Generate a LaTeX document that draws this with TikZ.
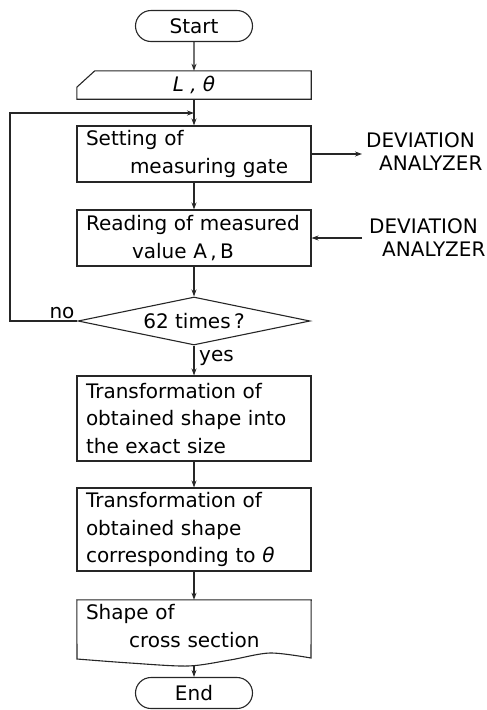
\documentclass[tikz,border=0pt]{standalone}
\usepackage{fontspec}
\setmainfont{DejaVu Sans}
\usetikzlibrary{shapes.misc,shapes.geometric,arrows.meta,calc}
\begin{document}
\begin{tikzpicture}[x=1pt,y=-1pt,
  every node/.style={font=\fontsize{20}{27.5}\selectfont},
  line/.style={draw=black!85, line width=1.1pt},
  arr/.style={line, -{Stealth[length=7pt,width=5pt]}},
  term/.style={rounded rectangle, line, minimum width=117pt, minimum height=31pt, inner sep=0pt},
  procbox/.style={rectangle, line, minimum width=234pt, text width=216pt, inner xsep=9pt, inner ysep=0pt, align=left},
  lbl/.style={inner sep=0pt, font=\fontsize{20}{23}\selectfont, align=left}
]
\useasboundingbox (0,0) rectangle (487,710);

\node[term] (start) at (194,26) {Start};
\node[inner sep=0pt, minimum width=234pt, minimum height=28pt] (inp) at (194,85) {\itshape L , θ};
\draw[line] (inp.south west) -- ($(inp.south west)+(0,-12)$) -- ($(inp.north west)+(18,0)$) -- (inp.north east) -- (inp.south east) -- cycle;

\node[procbox, minimum height=56pt] (set) at (194,154) {Setting of\\\hspace*{44pt}measuring gate};
\node[procbox, minimum height=56pt] (read) at (194,238) {Reading of measured\\\hspace*{46pt}value~A\,,\,B};
\node[diamond, line, minimum width=232pt, minimum height=48pt, inner sep=0pt, aspect=4.8] (dec) at (194,321) {62 times\,?};
\node[procbox, minimum height=85pt] (tr1) at (194,418.5) {Transformation of\\obtained shape into\\the exact size};
\node[procbox, minimum height=83pt] (tr2) at (194,529.5) {Transformation of\\obtained shape\\corresponding to {\itshape θ}};
\node[minimum width=234pt, text width=216pt, inner xsep=9pt, inner ysep=0pt, minimum height=52pt, align=left] (doc) at (194,626) {Shape of\\\hspace*{43pt}cross section};
\draw[line] (doc.north west) -- (doc.north east) -- plot[smooth] coordinates {(311,658) (270,653) (230,660) (188,666) (130,663) (77,659)} -- cycle;
\coordinate (docb) at (194,666);
\node[term] (end) at (194,693) {End};

\draw[arr] (start) -- (inp);
\draw[arr] (inp) -- (set);
\draw[arr] (set) -- (read);
\draw[arr] (read) -- (dec);
\draw[arr] (dec) -- (tr1);
\draw[arr] (tr1) -- (tr2);
\draw[arr] (tr2) -- (doc.north);
\draw[arr] (docb) -- (end);

\coordinate (lp1) at (10,321);
\coordinate (lp2) at (10,113);
\coordinate (lp3) at (194,113);
\draw[arr] (dec.west) -- (lp1) -- (lp2) -- (lp3);

\coordinate (o1) at (362,154);
\draw[arr] (set.east) -- (o1);
\coordinate (i2) at (362,238);
\draw[arr] (i2) -- (read.east);
\node[lbl, anchor=west] (dev1) at (366,151.5) {DEVIATION\\\hspace*{13pt}ANALYZER};
\node[lbl, anchor=west] (dev2) at (369,238) {DEVIATION\\\hspace*{13pt}ANALYZER};

\node[inner sep=0pt] (no) at (62,313) {no};
\node[inner sep=0pt, anchor=base west] (yes) at (199,361) {yes};
\end{tikzpicture}
\end{document}
